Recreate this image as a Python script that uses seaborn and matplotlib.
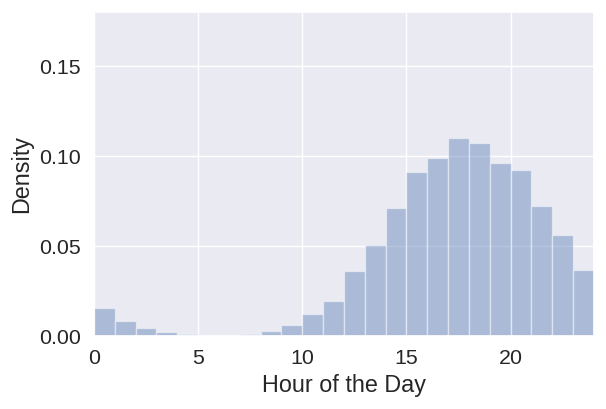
import numpy as np
import pandas as pd
import seaborn as sns
import matplotlib
matplotlib.use('Agg')
import matplotlib.pyplot as plt

# Hour-of-day bins and the density
hours = list(range(24))
density = [0.0159, 0.0083, 0.0043, 0.0021, 0.0011, 0.0009, 0.0008, 0.0013,
           0.0028, 0.0060, 0.0122, 0.0196, 0.0363, 0.0504, 0.0715, 0.0915,
           0.0990, 0.1100, 0.1076, 0.0963, 0.0922, 0.0722, 0.0560, 0.0370]

df = pd.DataFrame({'hour': hours, 'density': density})

sns.set_theme(style='darkgrid', font_scale=1.4)
plt.rcParams['font.family'] = ['Liberation Sans', 'DejaVu Sans']

fig, ax = plt.subplots(figsize=(6.06, 4.09), dpi=100)
fig.subplots_adjust(left=0.155, right=0.98, top=0.97, bottom=0.178)

# pale edges so the tiny overnight bars still show
sns.histplot(data=df, x='hour', weights='density', bins=24, binrange=(0, 24),
             stat='count', color='#4c72b0', alpha=0.4,
             edgecolor=(1, 1, 1, 0.45), linewidth=1, ax=ax)

ax.set_xlim(0, 24)
ax.set_ylim(0, 0.18)
ax.set_xticks([0, 5, 10, 15, 20])
ax.set_yticks([0.0, 0.05, 0.10, 0.15])
ax.set_xlabel('Hour of the Day')
ax.set_ylabel('Density')

plt.savefig('out.png', dpi=100)
